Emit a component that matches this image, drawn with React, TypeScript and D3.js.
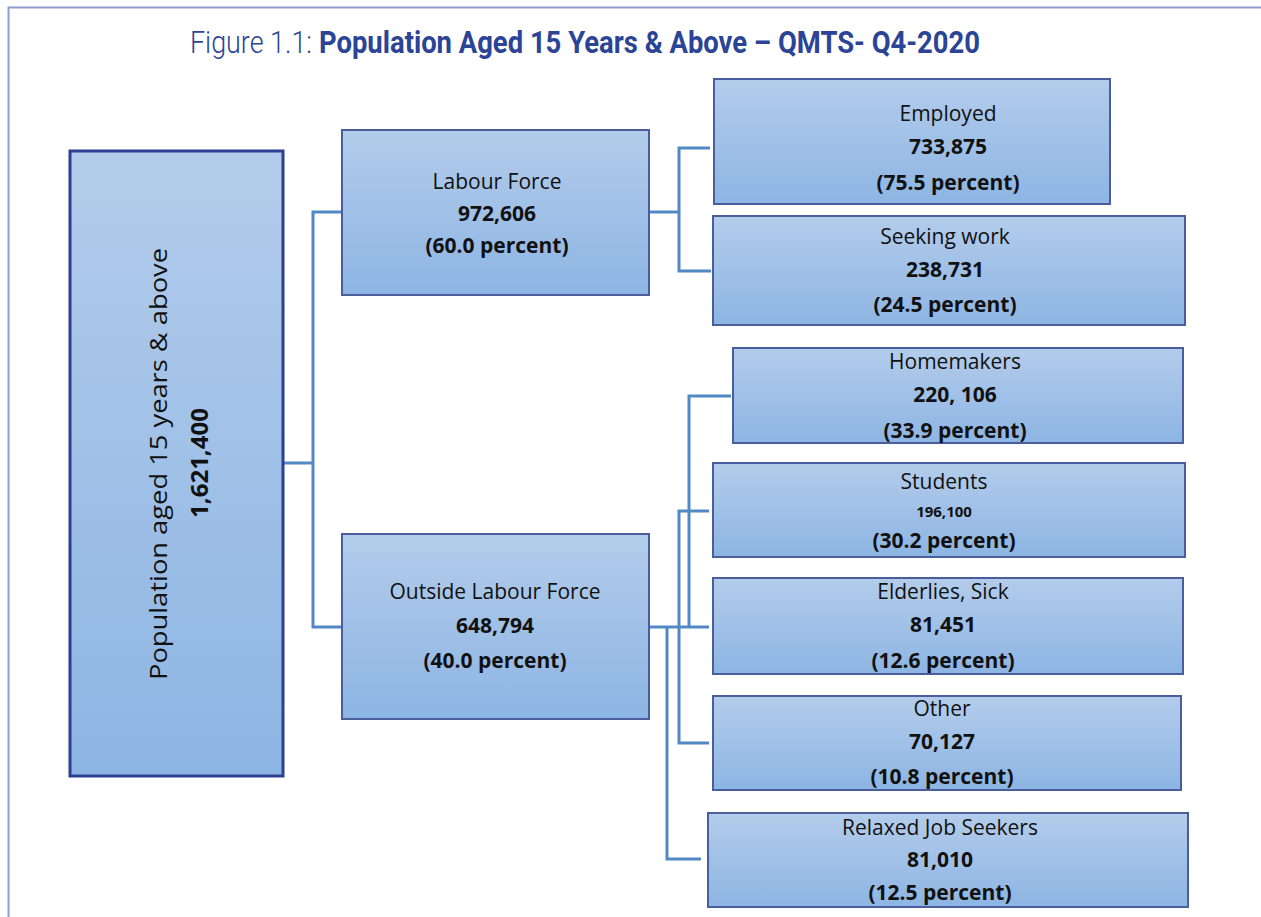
import React from "react";
import * as d3 from "d3";

const titlePrefix = "Figure 1.1: ";
const titleMain = "Population Aged 15 Years & Above – QMTS- Q4-2020";

const rootLabel = "Population aged 15 years & above";
const rootValue = "1,621,400";

const nodeLabels = [
  "Labour Force",
  "Outside Labour Force",
  "Employed",
  "Seeking work",
  "Homemakers",
  "Students",
  "Elderlies, Sick",
  "Other",
  "Relaxed Job Seekers",
];
const nodeValues = [
  "972,606",
  "648,794",
  "733,875",
  "238,731",
  "220, 106",
  "196,100",
  "81,451",
  "70,127",
  "81,010",
];
const nodePercents = [60.0, 40.0, 75.5, 24.5, 33.9, 30.2, 12.6, 10.8, 12.5];

// layout (pixel geometry) of the boxes: [x0, y0, x1, y1, textCx, line1Y, line2Y, line3Y]
const boxGeom: number[][] = [
  [342, 130, 649, 295, 497, 181, 213, 245],
  [342, 534, 649, 719, 495, 591, 625, 660],
  [714, 79, 1110, 204, 948, 113, 146, 182],
  [713, 216, 1185, 325, 945, 236, 269, 304],
  [733, 348, 1183, 443, 955, 361, 394, 430],
  [713, 463, 1185, 557, 944, 481, 511, 540],
  [713, 578, 1183, 674, 943, 591, 624, 660],
  [713, 696, 1181, 790, 942, 708, 741, 776],
  [708, 813, 1188, 907, 940, 827, 859, 892],
];
const rootGeom = [70, 151, 283, 776];

// connector paths as point lists
const connectors: [number, number][][] = [
  [[283, 463], [313, 463]],
  [[342, 212], [313, 212], [313, 627], [342, 627]],
  [[649, 212], [679, 212]],
  [[710, 148], [679, 148], [679, 271], [711, 271]],
  [[649, 627], [709, 627]],
  [[731, 396], [689, 396], [689, 627]],
  [[709, 511], [679, 511], [679, 743], [709, 743]],
  [[667, 627], [667, 859], [701, 859]],
];

const fmtPct = d3.format(".1f");

export default function App() {
  const line = d3.line<[number, number]>().x((d) => d[0]).y((d) => d[1]);
  const textFont = "'Open Sans', 'DejaVu Sans', sans-serif";
  return (
    <svg width={1261} height={917} style={{ position: "absolute", left: 0, top: 0 }}>
      <defs>
        <linearGradient id="bg" x1="0" y1="0" x2="0" y2="1">
          <stop offset="0%" stopColor="#b3cceb" />
          <stop offset="100%" stopColor="#8db5e3" />
        </linearGradient>
      </defs>
      <rect x={0} y={0} width={1261} height={917} fill="#ffffff" />
      {/* frame */}
      <path d="M8.5,917 L8.5,7.5 L1261,7.5" fill="none" stroke="#8c9ccf" strokeWidth={2} />
      {/* title */}
      <text x={190} y={53} fontFamily="'Liberation Sans Narrow', 'Roboto', sans-serif" fontSize={31} fill="#2b4496" fontWeight={300} textLength={122} lengthAdjust="spacingAndGlyphs">
        {titlePrefix}
      </text>
      <text x={319} y={53} fontFamily="'Liberation Sans Narrow', 'Roboto', sans-serif" fontSize={31} fill="#2b4496" fontWeight={700} textLength={661} lengthAdjust="spacingAndGlyphs">
        {titleMain}
      </text>
      {/* connectors */}
      {connectors.map((c, i) => (
        <path key={i} d={line(c) || ""} fill="none" stroke="#5089c3" strokeWidth={3} />
      ))}
      {/* root box */}
      <rect
        x={rootGeom[0]}
        y={rootGeom[1]}
        width={rootGeom[2] - rootGeom[0]}
        height={rootGeom[3] - rootGeom[1]}
        fill="url(#bg)"
        stroke="#2d3f91"
        strokeWidth={3}
      />
      <g transform={`translate(157,464) rotate(-90)`}>
        <text textAnchor="middle" dominantBaseline="central" fontFamily={textFont} fontSize={24} fill="#111" textLength={432} lengthAdjust="spacingAndGlyphs">
          {rootLabel}
        </text>
      </g>
      <g transform={`translate(198,463) rotate(-90)`}>
        <text textAnchor="middle" dominantBaseline="central" fontFamily={textFont} fontSize={24} fontWeight={700} fill="#111">
          {rootValue}
        </text>
      </g>
      {/* nodes */}
      {nodeLabels.map((lab, i) => {
        const g = boxGeom[i];
        const cx = g[4];
        return (
          <g key={lab}>
            <rect
              x={g[0]}
              y={g[1]}
              width={g[2] - g[0]}
              height={g[3] - g[1]}
              fill="url(#bg)"
              stroke="#4a5e9e"
              strokeWidth={2}
            />
            <text x={cx} y={g[5]} textAnchor="middle" dominantBaseline="central" fontFamily={textFont} fontSize={21} fill="#111">
              {lab}
            </text>
            <text x={cx} y={g[6]} textAnchor="middle" dominantBaseline="central" fontFamily={textFont} fontSize={i === 5 ? 15 : 21} fontWeight={700} fill="#111">
              {nodeValues[i]}
            </text>
            <text x={cx} y={g[7]} textAnchor="middle" dominantBaseline="central" fontFamily={textFont} fontSize={21} fontWeight={700} fill="#111">
              {`(${fmtPct(nodePercents[i])} percent)`}
            </text>
          </g>
        );
      })}
    </svg>
  );
}
